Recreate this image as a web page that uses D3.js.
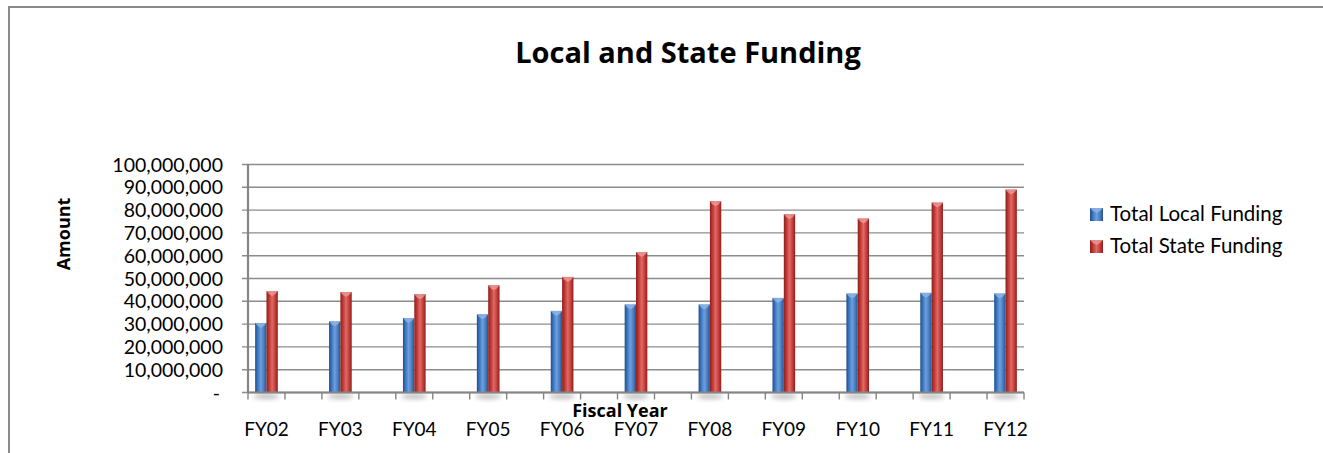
<!DOCTYPE html>
<html>
<head>
<meta charset="utf-8">
<script src="https://cdn.jsdelivr.net/npm/d3@7"></script>
<style>
  html, body { margin: 0; padding: 0; background: #fff; overflow: hidden; }
  svg { display: block; }
  text { font-family: Lato, "Open Sans", sans-serif; fill: #000; }
  text.bold { font-family: "Open Sans", Lato, sans-serif; font-weight: bold; }
</style>
</head>
<body>
<svg id="chart" width="1323" height="453"></svg>
<script>
// Fiscal years and the two funding series (dollars)
const categories = ["FY02","FY03","FY04","FY05","FY06","FY07","FY08","FY09","FY10","FY11","FY12"];
const localFunding = [30500000, 31200000, 32700000, 34300000, 35800000, 38600000, 38600000, 41500000, 43400000, 43700000, 43400000];
const stateFunding = [44500000, 44100000, 43100000, 47000000, 50700000, 61600000, 83900000, 78200000, 76300000, 83300000, 89000000];
const seriesNames = ["Total Local Funding", "Total State Funding"];
const yTicks = [0,10000000,20000000,30000000,40000000,50000000,60000000,70000000,80000000,90000000,100000000];

const svg = d3.select("#chart");
const defs = svg.append("defs");

// Cylinder-like shading for each series
const palettes = [
  { id: "gLocal", stops: ["#1f4f8f", "#3f79c4", "#6d9fdc", "#4a80c6", "#24548f"], cap: "#8fb6e6" },
  { id: "gState", stops: ["#8c1f1c", "#c23a36", "#df6a66", "#c8403c", "#8a201d"], cap: "#ee9a97" }
];
palettes.forEach(p => {
  const g = defs.append("linearGradient").attr("id", p.id).attr("x1", "0").attr("x2", "1").attr("y1", "0").attr("y2", "0");
  p.stops.forEach((c, i) => g.append("stop").attr("offset", i / (p.stops.length - 1)).attr("stop-color", c));
});
defs.append("filter").attr("id", "soft").attr("x", "-50%").attr("y", "-50%").attr("width", "200%").attr("height", "200%")
  .append("feGaussianBlur").attr("stdDeviation", 2);

// Chart frame: top and left edges are visible, the rest runs off the page
svg.append("path").attr("d", "M9,460 L9,7 L1330,7")
  .attr("fill", "none").attr("stroke", "#8a8a8a").attr("stroke-width", 2);

// Plot area
const x0 = 248, x1 = 1024, yTop = 164.5, yBot = 392.5;
const half = (x1 - x0) / 21;

const x = d3.scaleBand().domain(categories).range([x0, x0 + 22 * half]).paddingInner(0).paddingOuter(0);
const xs = d3.scaleBand().domain(seriesNames).range([0, half]).paddingInner(0).paddingOuter(0.63);
const y = d3.scaleLinear().domain([0, 100000000]).range([yBot, yTop]);

// Gridlines with left tick stubs
svg.append("g").selectAll("line").data(yTicks).join("line")
  .attr("x1", x0 - 6).attr("x2", x1)
  .attr("y1", d => y(d)).attr("y2", d => y(d))
  .attr("stroke", "#8c8c8c").attr("stroke-width", 1.4);

// Y tick labels
const fmt = d => d === 0 ? "-" : d3.format(",")(d);
svg.append("g").selectAll("text").data(yTicks).join("text")
  .attr("x", d => d === 0 ? 220 : 223).attr("y", d => y(d)).attr("dy", "0.36em")
  .attr("text-anchor", "end").style("font-size", "19.5px")
  .text(fmt);

// Soft base shadows beneath each column pair
svg.append("g").selectAll("ellipse").data(categories).join("ellipse")
  .attr("cx", d => x(d) + half / 2).attr("cy", yBot + 4)
  .attr("rx", 13).attr("ry", 3)
  .attr("fill", "#9a9a9a").attr("opacity", 0.55).attr("filter", "url(#soft)");

// Columns
const rows = categories.map((c, i) => ({ cat: c, vals: [localFunding[i], stateFunding[i]] }));
const groups = svg.append("g").selectAll("g").data(rows).join("g")
  .attr("transform", d => `translate(${x(d.cat)},0)`);
groups.selectAll("rect.bar").data(d => d.vals.map((v, k) => ({ v, k }))).join("rect")
  .attr("class", "bar")
  .attr("x", d => xs(seriesNames[d.k])).attr("width", xs.bandwidth())
  .attr("y", d => y(d.v)).attr("height", d => yBot - y(d.v))
  .attr("fill", d => `url(#${palettes[d.k].id})`);
// bevelled caps on column tops
groups.selectAll("path.cap").data(d => d.vals.map((v, k) => ({ v, k }))).join("path")
  .attr("class", "cap")
  .attr("d", d => {
    const bx = xs(seriesNames[d.k]), bw = xs.bandwidth(), by = y(d.v);
    return `M${bx},${by} L${bx + bw},${by} L${bx + bw - 2.5},${by + 3} L${bx + bw / 2},${by + 5} L${bx + 2.5},${by + 3} Z`;
  })
  .attr("fill", d => palettes[d.k].cap).attr("opacity", 0.8);

// Axes lines
svg.append("line").attr("x1", x0).attr("x2", x0).attr("y1", yTop).attr("y2", yBot)
  .attr("stroke", "#858585").attr("stroke-width", 2.2);
svg.append("line").attr("x1", x0).attr("x2", x1).attr("y1", yBot).attr("y2", yBot)
  .attr("stroke", "#858585").attr("stroke-width", 2.2);

// X ticks at each column slot edge
const xTickPos = [];
categories.forEach(c => { xTickPos.push(x(c)); xTickPos.push(x(c) + half); });
svg.append("g").selectAll("line").data(xTickPos).join("line")
  .attr("x1", d => d).attr("x2", d => d).attr("y1", yBot).attr("y2", yBot + 7)
  .attr("stroke", "#858585").attr("stroke-width", 1.4);

// X tick labels
svg.append("g").selectAll("text").data(categories).join("text")
  .attr("x", d => x(d) + half / 2).attr("y", 436)
  .attr("text-anchor", "middle").style("font-size", "19px")
  .text(d => d);

// Titles
svg.append("text").attr("class", "bold").attr("x", 688).attr("y", 63).attr("text-anchor", "middle")
  .style("font-size", "29px").text("Local and State Funding");
svg.append("text").attr("class", "bold").attr("x", 620).attr("y", 417).attr("text-anchor", "middle")
  .style("font-size", "18px").text("Fiscal Year");
svg.append("text").attr("class", "bold").attr("transform", "translate(69.5,234) rotate(-90)").attr("text-anchor", "middle")
  .style("font-size", "18px").text("Amount");

// Legend
const legend = svg.append("g").selectAll("g").data(seriesNames).join("g")
  .attr("transform", (d, i) => `translate(1090,${208 + i * 32})`);
legend.append("rect").attr("width", 13).attr("height", 13)
  .attr("fill", (d, i) => `url(#${palettes[i].id})`);
legend.append("path").attr("d", "M0,0 L13,0 L10,3 L6.5,5 L3,3 Z")
  .attr("fill", (d, i) => palettes[i].cap).attr("opacity", 0.8);
legend.append("text").attr("x", 20).attr("y", 12.5).style("font-size", "20.5px").text(d => d);
</script>
</body>
</html>
